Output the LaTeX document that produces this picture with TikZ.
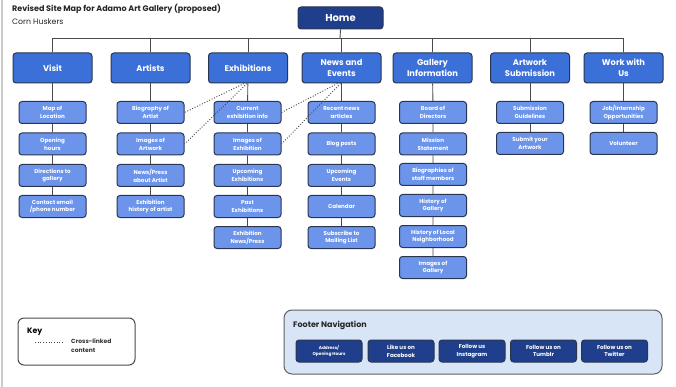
\documentclass[tikz,border=0pt]{standalone}
\usepackage{fontspec}
\setmainfont{Poppins}
\definecolor{homeblue}{HTML}{1F3F8C}
\definecolor{topblue}{HTML}{3C70D9}
\definecolor{childblue}{HTML}{6B94EA}
\definecolor{edge}{HTML}{2A3550}
\definecolor{linegray}{HTML}{4A4A4A}
\definecolor{footfill}{HTML}{D8E5F6}
\begin{document}
\begin{tikzpicture}[x=1pt,y=-1pt,
  box/.style={rounded corners=3pt, draw=edge, line width=1pt, text=white, align=center, inner sep=0pt},
  home/.style={box, fill=homeblue, minimum width=85pt, minimum height=22pt, font=\bfseries\fontsize{10}{12}\selectfont},
  topbox/.style={box, fill=topblue, minimum width=79pt, minimum height=30pt, font=\bfseries\fontsize{8.3}{11}\selectfont},
  child/.style={box, fill=childblue, minimum width=67pt, minimum height=22pt, font=\bfseries\fontsize{5.6}{7.8}\selectfont},
  foot/.style={box, fill=homeblue, minimum width=66pt, minimum height=22pt, font=\bfseries\fontsize{5.6}{7.8}\selectfont},
  conn/.style={draw=linegray, line width=0.9pt},
  xlink/.style={draw=linegray, line width=1pt, dash pattern=on 0.9pt off 1.8pt}
]
\useasboundingbox (0,0) rectangle (676,387);
\fill[white] (0,0) rectangle (676,387);
\draw[gray!40, line width=1.5pt] (2,0) -- (2,387);

% title
\node[anchor=base west, inner sep=0pt, font=\bfseries\fontsize{8}{9}\selectfont, text=black!85] (title) at (12,12) {Revised Site Map for Adamo Art Gallery (proposed)};
\node[anchor=base west, inner sep=0pt, font=\fontsize{7.8}{9}\selectfont, text=black!85] (subt) at (12,25) {Corn Huskers};

% home
\node[home] (home) at (340.5,18) {Home};
\coordinate (bar) at (340,38);

% top level
\node[topbox] (visit) at (52.5,68) {Visit};
\node[topbox] (artists) at (150.5,68) {Artists};
\node[topbox] (exh) at (248,68) {Exhibitions};
\node[topbox] (news) at (341.5,68) {News and\\Events};
\node[topbox] (gal) at (432.5,68) {Gallery\\Information};
\node[topbox] (sub) at (530,68) {Artwork\\Submission};
\node[topbox] (work) at (623.5,68) {Work with\\Us};

\draw[conn] (home.south) -- (bar);
\draw[conn] (visit.north |- bar) -- (work.north |- bar);
\foreach \n in {visit,artists,exh,news,gal,sub,work}
  \draw[conn] (\n.north |- bar) -- (\n.north);

% visit children
\node[child] (v1) at (52.5,112.5) {Map of\\Location};
\node[child] (v2) at (52.5,144) {Opening\\hours};
\node[child] (v3) at (52.5,175.5) {Directions to\\gallery};
\node[child] (v4) at (52.5,206.5) {Contact email\\/phone number};
\draw[conn] (visit) -- (v1) -- (v2) -- (v3) -- (v4);

% artists children
\node[child] (a1) at (150.5,112.5) {Biography of\\Artist};
\node[child] (a2) at (150.5,144) {Images of\\Artwork};
\node[child] (a3) at (150.5,175.5) {News/Press\\about Artist};
\node[child] (a4) at (150.5,206.5) {Exhibition\\history of artist};
\draw[conn] (artists) -- (a1) -- (a2) -- (a3) -- (a4);

% exhibitions children
\node[child] (e1) at (247.5,112.5) {Current\\exhibition info};
\node[child] (e2) at (247.5,144) {Images of\\Exhibition};
\node[child] (e3) at (247.5,175.5) {Upcoming\\Exhibitions};
\node[child] (e4) at (247.5,206.5) {Past\\Exhibitions};
\node[child] (e5) at (247.5,237.5) {Exhibition\\News/Press};
\draw[conn] (exh) -- (e1) -- (e2) -- (e3) -- (e4) -- (e5);

% news children
\node[child] (n1) at (341.5,112.5) {Recent news\\articles};
\node[child] (n2) at (341.5,144) {Blog posts};
\node[child] (n3) at (341.5,175.5) {Upcoming\\Events};
\node[child] (n4) at (341.5,206.5) {Calendar};
\node[child] (n5) at (341.5,237.5) {Subscribe to\\Mailing List};
\draw[conn] (news) -- (n1) -- (n2) -- (n3) -- (n4) -- (n5);

% gallery children
\node[child] (g1) at (433,112.5) {Board of\\Directors};
\node[child] (g2) at (433,144) {Mission\\Statement};
\node[child] (g3) at (433,174.5) {Biographies of\\staff members};
\node[child] (g4) at (433,205.5) {History of\\Gallery};
\node[child] (g5) at (433,236.5) {History of Local\\Neighborhood};
\node[child] (g6) at (433,267.5) {Images of\\Gallery};
\draw[conn] (gal) -- (g1) -- (g2) -- (g3) -- (g4) -- (g5) -- (g6);

% submission children
\node[child] (s1) at (530,112.5) {Submission\\Guidelines};
\node[child] (s2) at (530,143.5) {Submit your\\Artwork};
\draw[conn] (sub) -- (s1) -- (s2);

% work children
\node[child] (w1) at (623.5,112.5) {Job/Internship\\Opportunities};
\node[child] (w2) at (623.5,143.5) {Volunteer};
\draw[conn] (work) -- (w1) -- (w2);

% cross links
\draw[xlink] ([xshift=-4pt]exh.south) -- (a1.east);
\draw[xlink] ([xshift=-1pt]exh.south) -- (a2.east);
\draw[xlink] ([xshift=-4pt]news.south) -- (e1.east);
\draw[xlink] ([xshift=-1pt]news.south) -- (e2.east);

% key
\node[draw=linegray, line width=1pt, rounded corners=6pt, minimum width=117pt, minimum height=47pt, inner sep=0pt] (key) at (76.5,341.5) {};
\node[anchor=base west, inner sep=0pt, font=\bfseries\fontsize{7.8}{9}\selectfont] (keyt) at (27,333) {Key};
\coordinate (k1) at (35,342);
\coordinate (k2) at (64,342);
\draw[xlink, line width=0.7pt] (k1) -- (k2);
\node[anchor=north west, inner sep=0pt, align=left, font=\bfseries\fontsize{6}{9}\selectfont, text=black!80] (keyl) at (71,338) {Cross-linked\\content};

% footer
\node[draw=gray!75!black, fill=footfill, line width=1pt, rounded corners=8pt, minimum width=378pt, minimum height=64pt, inner sep=0pt] (footer) at (473,342) {};
\node[anchor=base west, inner sep=0pt, font=\bfseries\fontsize{8}{10}\selectfont, text=black!85] (foott) at (293,327) {Footer Navigation};
\node[foot, font=\bfseries\fontsize{4.3}{6}\selectfont] (f1) at (329,351) {Address/\\Opening Hours};
\node[foot] (f2) at (401,351) {Like us on\\Facebook};
\node[foot] (f3) at (472,351) {Follow us\\Instagram};
\node[foot] (f4) at (543.5,351) {Follow us on\\Tumblr};
\node[foot] (f5) at (614.5,351) {Follow us on\\Twitter};
\end{tikzpicture}
\end{document}
